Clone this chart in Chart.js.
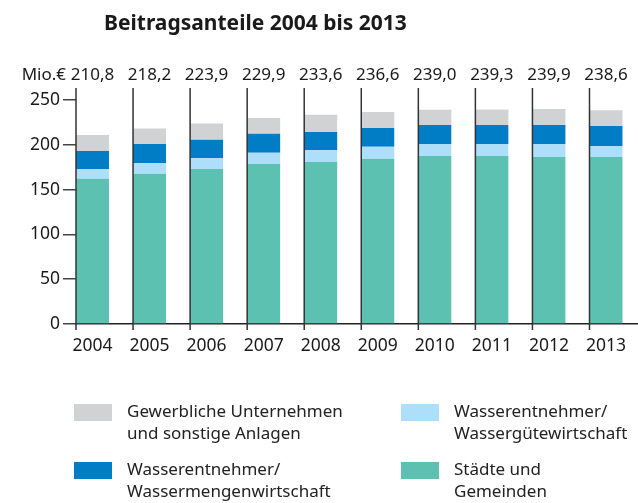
<!DOCTYPE html>
<html lang="de">
<head>
<meta charset="utf-8">
<script src="https://cdn.jsdelivr.net/npm/chart.js@4.4.1/dist/chart.umd.min.js"></script>
<style>
    body { margin: 0; background: #fff; font-family: "Noto Sans", sans-serif; color: #222; }
    #wrap { position: relative; width: 638px; height: 503px; overflow: hidden; }
    #chart { position: absolute; left: 0; top: 0; }
    #title { position: absolute; left: 104px; top: 8px; font-size: 21px; font-weight: bold; color: #1a1a1a; }
    #legend { position: absolute; left: 74px; top: 400px; display: grid; grid-template-columns: 327px 230px; row-gap: 14px; font-size: 17px; line-height: 22px; }
    .item { display: flex; }
    .box { width: 38px; height: 17px; margin: 4px 15px 0 0; flex: none; }
    .txt { white-space: pre-line; color: #222; }
</style>
</head>
<body>
<div id="wrap">
    <canvas id="chart" width="638" height="503"></canvas>
    <div id="title">Beitragsanteile 2004 bis 2013</div>
    <div id="legend"></div>
</div>
<script>
const years = ['2004', '2005', '2006', '2007', '2008', '2009', '2010', '2011', '2012', '2013'];
const totals = ['210,8', '218,2', '223,9', '229,9', '233,6', '236,6', '239,0', '239,3', '239,9', '238,6'];
const unitLabel = 'Mio.€';

// stacked bottom to top
const staedte = [162.0, 167.6, 173.1, 178.7, 180.9, 184.3, 187.6, 187.6, 186.5, 186.5];
const guete = [11.1, 12.2, 12.3, 12.3, 13.4, 13.4, 13.4, 13.4, 14.5, 12.3];
const menge = [20.1, 21.2, 20.1, 21.2, 20.1, 21.1, 21.2, 21.2, 21.2, 22.3];
const gewerbe = [17.6, 17.2, 18.4, 17.7, 19.2, 17.8, 16.8, 17.1, 17.7, 17.5];

const seriesNames = [
    'Städte und\nGemeinden',
    'Wasserentnehmer/\nWassergütewirtschaft',
    'Wasserentnehmer/\nWassermengenwirtschaft',
    'Gewerbliche Unternehmen\nund sonstige Anlagen'
];
const seriesColors = ['#5dc1b2', '#aedffa', '#007dc5', '#d1d2d4'];
const legendOrder = [3, 1, 2, 0];

Chart.defaults.font.family = '"Noto Sans", sans-serif';
Chart.defaults.color = '#1a1a1a';

// vertical separator lines at left bar edges + totals above bars
const separators = {
    id: 'separators',
    afterDatasetsDraw(chart) {
        const ctx = chart.ctx;
        const area = chart.chartArea;
        const bars = chart.getDatasetMeta(0).data;
        ctx.save();
        ctx.strokeStyle = '#333';
        ctx.lineWidth = 1.5;
        bars.forEach(bar => {
            const x = bar.x - bar.width / 2;
            ctx.beginPath();
            ctx.moveTo(x, area.top - 12);
            ctx.lineTo(x, area.bottom + 6);
            ctx.stroke();
        });
        ctx.fillStyle = '#1a1a1a';
        ctx.font = '17px "Noto Sans", sans-serif';
        ctx.textBaseline = 'middle';
        ctx.textAlign = 'center';
        bars.forEach((bar, i) => ctx.fillText(totals[i], bar.x, area.top - 25));
        ctx.textAlign = 'right';
        ctx.fillText(unitLabel, area.left - 10, area.top - 25);
        ctx.restore();
    }
};

const allSeries = [staedte, guete, menge, gewerbe];

new Chart(document.getElementById('chart'), {
    type: 'bar',
    data: {
        labels: years,
        datasets: allSeries.map((d, i) => ({
            label: seriesNames[i],
            data: d,
            backgroundColor: seriesColors[i],
            borderWidth: 0,
            barPercentage: 0.578,
            categoryPercentage: 1
        }))
    },
    options: {
        responsive: false,
        animation: false,
        layout: { padding: { top: 100, right: 0, bottom: 139, left: 0 } },
        plugins: {
            legend: { display: false },
            tooltip: { enabled: false }
        },
        scales: {
            x: {
                type: 'linear',
                stacked: true,
                min: 2003.711,
                max: 2013.55,
                offset: false,
                grid: { display: false, drawTicks: false },
                border: { display: true, color: '#222', width: 1.5 },
                ticks: {
                    stepSize: 1,
                    includeBounds: false,
                    padding: 12,
                    font: { size: 17.5 },
                    callback: v => String(v)
                },
                afterFit: scale => { scale.height = 40; }
            },
            y: {
                stacked: true,
                min: 0,
                max: 250,
                grid: { drawOnChartArea: false, drawTicks: true, tickLength: 13, color: '#444', lineWidth: 1.5 },
                border: { display: false },
                ticks: { stepSize: 50, padding: 3, font: { size: 17.5 } },
                afterFit: scale => { scale.width = 76; }
            }
        }
    },
    plugins: [separators]
});

const legend = document.getElementById('legend');
legendOrder.forEach(i => {
    const item = document.createElement('div');
    item.className = 'item';
    item.innerHTML = `<span class="box" style="background:${seriesColors[i]}"></span><span class="txt">${seriesNames[i]}</span>`;
    legend.appendChild(item);
});
</script>
</body>
</html>
